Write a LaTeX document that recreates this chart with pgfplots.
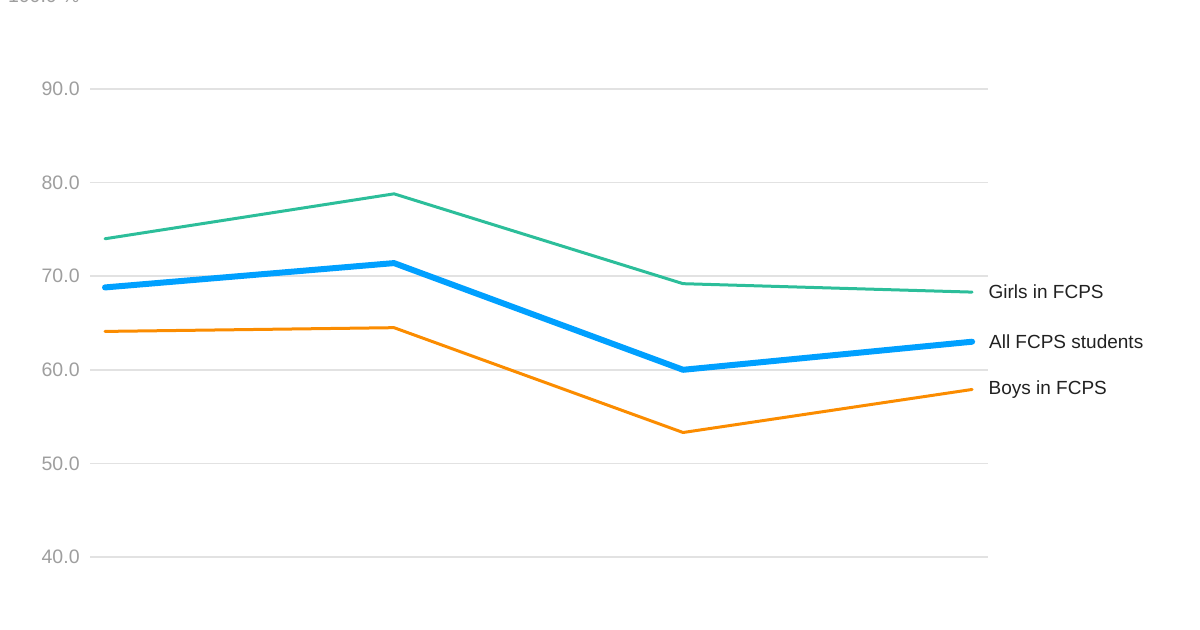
\documentclass[border=0pt]{standalone}
\usepackage{pgfplots}
\pgfplotsset{compat=1.18}
\usepackage{fontspec}
\setmainfont{Liberation Sans}

\definecolor{girlsc}{HTML}{2CBE9A}
\definecolor{allc}{HTML}{00A0FF}
\definecolor{boysc}{HTML}{FB8C00}
\definecolor{gridc}{HTML}{E2E2E2}
\definecolor{tickc}{HTML}{9E9E9E}
\definecolor{labc}{HTML}{212121}

\begin{document}
\begin{tikzpicture}
\begin{axis}[
    name=ax,
    scale only axis,
    width=449pt, height=280.8pt,
    xmin=-0.052, xmax=3.055,
    ymin=40, ymax=100,
    axis line style={draw=none},
    xtick=\empty,
    ytick={40,50,60,70,80,90,100},
    yticklabels={40.0,50.0,60.0,70.0,80.0,90.0,100.0 \%},
    major tick length=0pt,
    ymajorgrids,
    grid style={color=gridc, line width=0.75pt},
    yticklabel style={font=\fontsize{9.75}{12}\selectfont, color=tickc, inner sep=0pt, xshift=-5pt},
    clip=false,
    every axis plot/.append style={line join=round, line cap=round},
]
% Girls
\addplot[color=girlsc, line width=1.5pt] coordinates {(0,74.0) (1,78.8) (2,69.2) (3,68.3)}
    node[pos=1, anchor=west, xshift=7.5pt, inner sep=0pt, text=labc, font=\fontsize{9.5}{11}\selectfont] {Girls in FCPS};
% Boys
\addplot[color=boysc, line width=1.5pt] coordinates {(0,64.1) (1,64.5) (2,53.3) (3,57.9)}
    node[pos=1, anchor=west, xshift=7.5pt, inner sep=0pt, text=labc, font=\fontsize{9.5}{11}\selectfont] {Boys in FCPS};
% All
\addplot[color=allc, line width=3pt] coordinates {(0,68.8) (1,71.4) (2,60.0) (3,63.0)}
    node[pos=1, anchor=west, xshift=7pt, inner sep=0pt, text=labc, font=\fontsize{9.5}{11}\selectfont] {All FCPS students};
\end{axis}
\pgfresetboundingbox
\useasboundingbox (-45pt,-36.5pt) rectangle (555pt,278.5pt);
\end{tikzpicture}
\end{document}
